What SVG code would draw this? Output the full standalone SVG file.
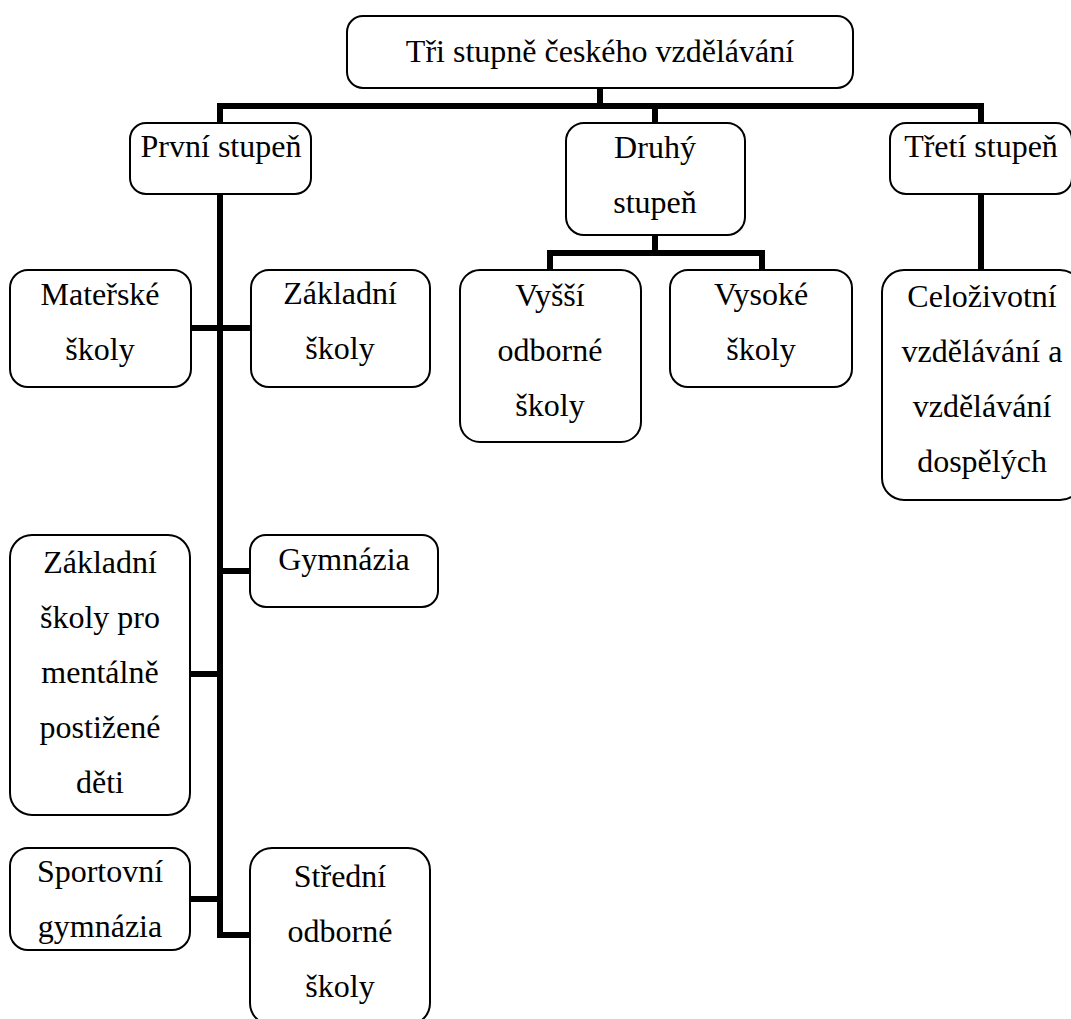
<svg xmlns="http://www.w3.org/2000/svg" width="1071" height="1019" viewBox="0 0 1071 1019">
<style>
.box{fill:#fff;stroke:#000;stroke-width:2}
.t{font-family:"Liberation Serif","Times New Roman",serif;font-size:32px;fill:#000;text-anchor:middle}
.c{fill:none;stroke:#000;stroke-width:6;stroke-linejoin:miter;stroke-linecap:butt}
</style>
<rect width="1071" height="1019" fill="#fff"/>
<g id="connectors">
<path class="c" d="M600 88 V106"/>
<path class="c" d="M220 123 V106 H981 V123"/>
<path class="c" d="M655 106 V123"/>
<path class="c" d="M220 193 V935 H250"/>
<path class="c" d="M191 328 H251"/>
<path class="c" d="M220 571 H250"/>
<path class="c" d="M190 674 H220"/>
<path class="c" d="M190 899 H220"/>
<path class="c" d="M655 235 V253"/>
<path class="c" d="M550 270 V253 H762 V270"/>
<path class="c" d="M981 193 V270"/>
</g>
<g id="n-top">
<rect class="box" x="347" y="16" width="506" height="72" rx="16"/>
<text class="t" x="600" y="62">Tři stupně českého vzdělávání</text>
</g>
<g id="n-prvni">
<rect class="box" x="130" y="123" width="181" height="71" rx="16"/>
<text class="t" x="221" y="157">První stupeň</text>
</g>
<g id="n-druhy">
<rect class="box" x="566" y="123" width="179" height="112" rx="18"/>
<text class="t" x="655" y="158">Druhý</text>
<text class="t" x="655" y="213">stupeň</text>
</g>
<g id="n-treti">
<rect class="box" x="890" y="123" width="182" height="71" rx="16"/>
<text class="t" x="981" y="157">Třetí stupeň</text>
</g>
<g id="n-materske">
<rect class="box" x="10" y="270" width="181" height="117" rx="18"/>
<text class="t" x="100" y="305">Mateřské</text>
<text class="t" x="100" y="360">školy</text>
</g>
<g id="n-zakladni">
<rect class="box" x="251" y="270" width="179" height="117" rx="18"/>
<text class="t" x="340" y="304">Základní</text>
<text class="t" x="340" y="359">školy</text>
</g>
<g id="n-vyssi">
<rect class="box" x="460" y="270" width="181" height="172" rx="20"/>
<text class="t" x="550" y="306">Vyšší</text>
<text class="t" x="550" y="361">odborné</text>
<text class="t" x="550" y="416">školy</text>
</g>
<g id="n-vysoke">
<rect class="box" x="670" y="270" width="182" height="117" rx="18"/>
<text class="t" x="761" y="305">Vysoké</text>
<text class="t" x="761" y="360">školy</text>
</g>
<g id="n-celozivotni">
<rect class="box" x="882" y="270" width="200" height="230" rx="22"/>
<text class="t" x="982" y="307">Celoživotní</text>
<text class="t" x="982" y="362">vzdělávání a</text>
<text class="t" x="982" y="417">vzdělávání</text>
<text class="t" x="982" y="472">dospělých</text>
</g>
<g id="n-gymnazia">
<rect class="box" x="250" y="535" width="188" height="72" rx="16"/>
<text class="t" x="344" y="570">Gymnázia</text>
</g>
<g id="n-zakladni-mp">
<rect class="box" x="10" y="535" width="180" height="280" rx="22"/>
<text class="t" x="100" y="573">Základní</text>
<text class="t" x="100" y="628">školy pro</text>
<text class="t" x="100" y="683">mentálně</text>
<text class="t" x="100" y="738">postižené</text>
<text class="t" x="100" y="793">děti</text>
</g>
<g id="n-sportovni">
<rect class="box" x="10" y="848" width="180" height="102" rx="18"/>
<text class="t" x="100" y="882">Sportovní</text>
<text class="t" x="100" y="937">gymnázia</text>
</g>
<g id="n-stredni">
<rect class="box" x="250" y="848" width="180" height="177" rx="22"/>
<text class="t" x="340" y="887">Střední</text>
<text class="t" x="340" y="942">odborné</text>
<text class="t" x="340" y="997">školy</text>
</g>
</svg>
